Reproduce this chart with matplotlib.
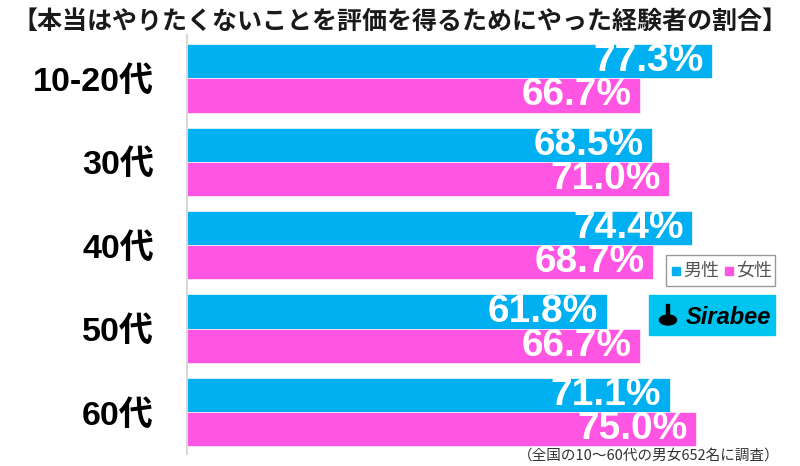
import numpy as np
import matplotlib.pyplot as plt
from matplotlib.patches import Rectangle, Circle

# ── data ──────────────────────────────────────────────────────────────────────
categories = ['10-20代', '30代', '40代', '50代', '60代']
male = [77.3, 68.5, 74.4, 61.8, 71.1]
female = [66.7, 71.0, 68.7, 66.7, 75.0]
series_names = ['男性', '女性']

title = '【本当はやりたくないことを評価を得るためにやった経験者の割合】'
footnote = '（全国の10〜60代の男女652名に調査）'

BLUE = '#00B0F0'
PINK = '#FF55E3'
JP = ['Noto Sans CJK JP', 'DejaVu Sans']
NUM = ['Liberation Sans', 'Noto Sans CJK JP']

plt.rcParams['font.family'] = JP

# ── plot ──────────────────────────────────────────────────────────────────────
fig = plt.figure(figsize=(8, 4.66), dpi=100)
ax = fig.add_axes([0.234, 0.026, 0.766, 0.899])

y = np.arange(len(categories))
h = 0.41
bm = ax.barh(y - h / 2, male, height=h, color=BLUE, edgecolor='#e6f6fd', linewidth=0.6)
bf = ax.barh(y + h / 2, female, height=h, color=PINK, edgecolor='#fde6f8', linewidth=0.6)

for bars, vals in ((bm, male), (bf, female)):
    for b, v in zip(bars, vals):
        ax.annotate(f'{v:.1f}%', (v, b.get_y() + b.get_height() / 2),
                    xytext=(-6, 0), textcoords='offset points',
                    ha='right', va='center', color='white',
                    fontsize=28, fontweight='bold', family=NUM)

ax.set_xlim(0, 90.3)
ax.set_ylim(4.5, -0.52)
ax.set_xticks([])
ax.set_yticks(y)
ax.set_yticklabels(categories, fontsize=24.5, fontweight='bold', family=NUM)
ax.tick_params(axis='y', length=0, pad=24)
for s in ('top', 'right', 'bottom'):
    ax.spines[s].set_visible(False)
ax.spines['left'].set_color('#d9d9d9')
ax.spines['left'].set_linewidth(1.5)

fig.text(0.5, 0.953, title, ha='center', va='center', fontsize=18,
         fontweight='bold', color='#1a1a1a')
fig.text(0.974, 0.022, footnote, ha='right', va='center', fontsize=10.5,
         color='#333333')

# legend box
W, H = 800, 466
fig.patches.append(Rectangle((666 / W, 1 - 286 / H), 109 / W, 31 / H,
                             transform=fig.transFigure, fill=False,
                             edgecolor='#999999', linewidth=1))
for i, (name, col) in enumerate(zip(series_names, (BLUE, PINK))):
    x0 = 672 + i * 53
    fig.patches.append(Rectangle((x0 / W, 1 - 275 / H), 8 / W, 8 / H,
                                 transform=fig.transFigure, color=col))
    fig.text((x0 + 11) / W, 1 - 270.5 / H, name, ha='left', va='center',
             fontsize=13, color='#555555')

# Sirabee logo
fig.patches.append(Rectangle((649 / W, 1 - 335 / H), 126 / W, 40 / H,
                             transform=fig.transFigure, color='#00C4F0'))
fig.patches.append(Circle((668 / W, 1 - 320 / H), 8.5 / W,
                          transform=fig.transFigure, color='black'))
fig.patches.append(Rectangle((666 / W, 1 - 318 / H), 2.5 / W, 14 / H,
                             transform=fig.transFigure, color='black'))
fig.text(686 / W, 1 - 317 / H, 'Sirabee', ha='left', va='center',
         fontsize=17, fontweight='bold', style='italic', color='black',
         family=NUM)

fig.savefig('out.png', dpi=100)
